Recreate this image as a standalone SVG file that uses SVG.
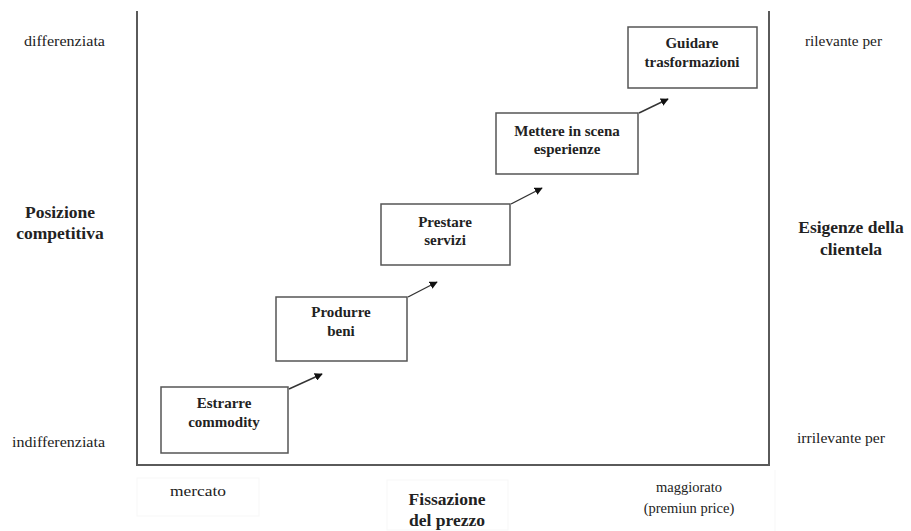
<svg xmlns="http://www.w3.org/2000/svg" width="911" height="531" viewBox="0 0 911 531">
  <style>
    .axis { stroke: #5a5a5a; stroke-width: 2; fill: none; }
    .box { fill: #fff; stroke: #555; stroke-width: 1.5; }
    .faint { fill: none; stroke: #f7f7f7; stroke-width: 1; }
    .edge { stroke: #333; stroke-width: 1.4; fill: none; marker-end: url(#head); }
    .lbl { font-family: "Liberation Serif", "Times New Roman", serif; font-size: 14.5px; fill: #222; }
    .ttl { font-family: "Liberation Serif", "Times New Roman", serif; font-size: 17.5px; font-weight: bold; fill: #222; text-anchor: middle; }
    .step { font-family: "Liberation Serif", "Times New Roman", serif; font-size: 15px; font-weight: bold; fill: #222; text-anchor: middle; }
  </style>
  <defs>
    <marker id="head" viewBox="0 0 10 10" refX="9" refY="5" markerWidth="8" markerHeight="8" orient="auto" markerUnits="userSpaceOnUse">
      <path d="M0,0 L10,5 L0,10 z" fill="#111"/>
    </marker>
  </defs>
  <rect width="911" height="531" fill="#fff"/>

  <!-- chart frame: left, bottom and right sides -->
  <path class="axis" d="M137,11 V465 H769 V11"/>

  <!-- faint cells under the bottom axis -->
  <rect class="faint" x="137" y="478" width="122" height="38"/>
  <rect class="faint" x="387" y="480" width="121" height="50"/>
  <line class="faint" x1="775" y1="470" x2="775" y2="531"/>

  <!-- axis labels -->
  <g id="y-left">
    <text class="lbl" x="24" y="46" textLength="81" lengthAdjust="spacingAndGlyphs">differenziata</text>
    <text class="ttl" x="60" y="218">Posizione</text>
    <text class="ttl" x="60" y="239">competitiva</text>
    <text class="lbl" x="12" y="447" textLength="93" lengthAdjust="spacingAndGlyphs">indifferenziata</text>
  </g>
  <g id="y-right">
    <text class="lbl" x="805" y="46" textLength="77" lengthAdjust="spacingAndGlyphs">rilevante per</text>
    <text class="ttl" x="851" y="233">Esigenze della</text>
    <text class="ttl" x="851" y="255">clientela</text>
    <text class="lbl" x="797" y="443" textLength="88" lengthAdjust="spacingAndGlyphs">irrilevante per</text>
  </g>
  <g id="x-axis">
    <text class="lbl" x="170" y="496" textLength="56" lengthAdjust="spacingAndGlyphs">mercato</text>
    <text class="ttl" x="447" y="505">Fissazione</text>
    <text class="ttl" x="447" y="526">del prezzo</text>
    <text class="lbl" x="689" y="492" text-anchor="middle">maggiorato</text>
    <text class="lbl" x="689" y="513" text-anchor="middle">(premiun price)</text>
  </g>

  <!-- connectors between steps -->
  <g id="connectors">
    <line class="edge" x1="289" y1="389" x2="322" y2="374"/>
    <line class="edge" x1="408" y1="297" x2="437" y2="282"/>
    <line class="edge" x1="511" y1="204" x2="542" y2="188"/>
    <line class="edge" x1="639" y1="113" x2="668" y2="99"/>
  </g>

  <!-- progression steps -->
  <g id="estrarre">
    <rect class="box" x="161" y="387" width="127" height="66"/>
    <text class="step" x="224" y="408">Estrarre</text>
    <text class="step" x="224" y="427">commodity</text>
  </g>
  <g id="produrre">
    <rect class="box" x="276" y="297" width="131" height="64"/>
    <text class="step" x="341" y="317">Produrre</text>
    <text class="step" x="341" y="336">beni</text>
  </g>
  <g id="prestare">
    <rect class="box" x="381" y="204" width="129" height="61"/>
    <text class="step" x="445" y="227">Prestare</text>
    <text class="step" x="445" y="245">servizi</text>
  </g>
  <g id="mettere">
    <rect class="box" x="496" y="113" width="142" height="61"/>
    <text class="step" x="567" y="136">Mettere in scena</text>
    <text class="step" x="567" y="154">esperienze</text>
  </g>
  <g id="guidare">
    <rect class="box" x="628" y="27" width="129" height="61"/>
    <text class="step" x="692" y="48">Guidare</text>
    <text class="step" x="692" y="67">trasformazioni</text>
  </g>
</svg>
